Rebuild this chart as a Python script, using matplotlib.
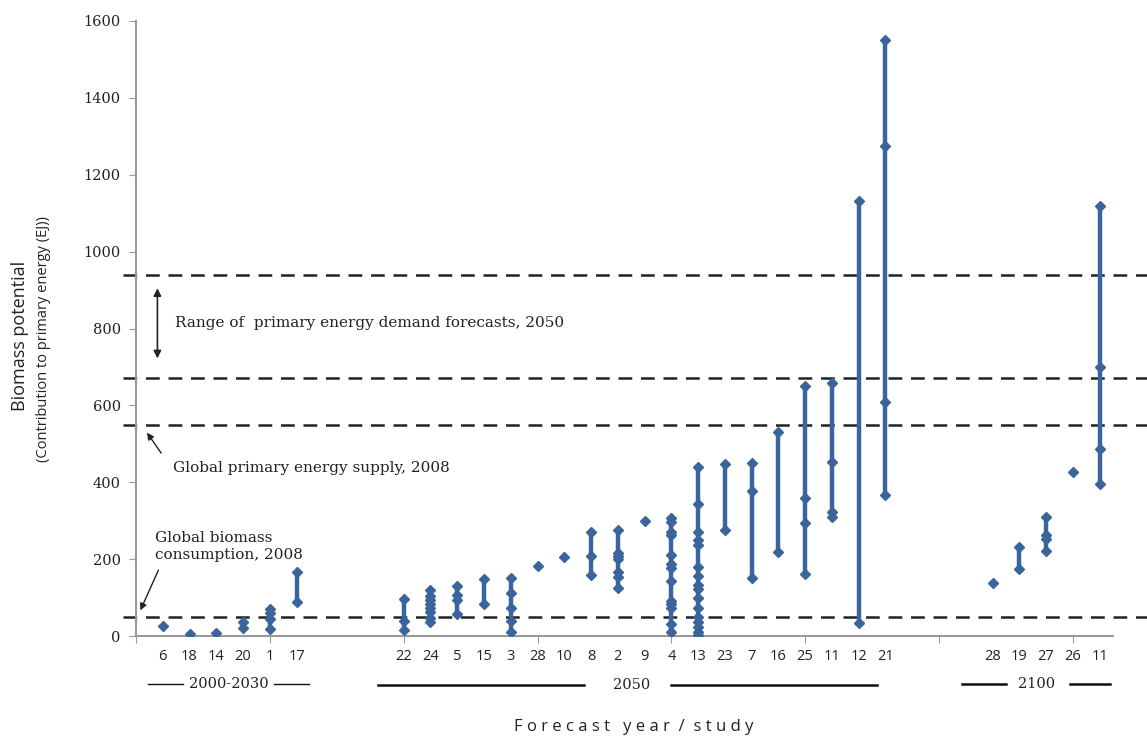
import numpy as np
import matplotlib
matplotlib.use('Agg')
import matplotlib.pyplot as plt
import matplotlib.transforms as mtransforms

# category slots along the x axis ('' = empty slot)
cats = ['', '6', '18', '14', '20', '1', '17', '', '', '',
        '22', '24', '5', '15', '3', '28', '10', '8', '2', '9',
        '4', '13', '23', '7', '16', '25', '11', '12', '21', '', '', '',
        '28', '19', '27', '26', '11']

# biomass potential estimates (EJ) per slot
vals = [[], [26], [5], [8], [36, 20], [70, 60, 45, 18], [166, 89], [], [], [],
        [96, 39, 16],
        [120, 105, 93, 82, 72, 62, 48, 36],
        [130, 107, 94, 58],
        [149, 83],
        [150, 111, 74, 39, 10],
        [183],
        [206],
        [271, 207, 160],
        [276, 215, 209, 200, 167, 153, 126],
        [299],
        [306, 297, 271, 263, 211, 187, 178, 143, 91, 82, 72, 30, 10],
        [439, 343, 270, 250, 237, 180, 156, 133, 121, 98, 72, 50, 37, 24, 11, 2],
        [447, 276],
        [451, 376, 152],
        [532, 218],
        [650, 360, 295, 161],
        [659, 452, 323, 310],
        [1132, 33],
        [1550, 1275, 610, 367],
        [], [], [],
        [137],
        [232, 174],
        [310, 263, 252, 221],
        [427],
        [1119, 701, 486, 395]]

ref_lines = [50, 550, 670, 940]

blue = '#3a659b'
serif = 'DejaVu Serif'
sans = 'Open Sans'

fig = plt.figure(figsize=(11.47, 7.38), dpi=100)
ax = fig.add_axes([136/1147, 1-636/738, 977/1147, 615/738])

for i, v in enumerate(vals):
    if not v:
        continue
    if len(v) > 1:
        ax.plot([i, i], [min(v), max(v)], color=blue, lw=3.2, solid_capstyle='butt', zorder=3)
    ax.plot([i]*len(v), v, ls='none', marker='D', ms=5.6, color=blue, mec=blue, zorder=4)

for y in ref_lines:
    ax.axhline(y, xmin=-0.0133, xmax=1.04, color='#222222', lw=1.8,
               ls=(0, (5.5, 3.5)), clip_on=False, zorder=2)

ax.set_xlim(0, len(cats) - 0.5)
ax.set_ylim(0, 1600)
ax.set_yticks(np.arange(0, 1601, 200))
ax.set_yticklabels([str(t) for t in range(0, 1601, 200)], family=serif, fontsize=10.5, color='#222222')

ax.xaxis.remove_overlapping_locs = False
ax.set_xticks(np.arange(0, len(cats), 5))
ax.set_xticklabels([])
ax.set_xticks([i for i, c in enumerate(cats) if c], minor=True)
ax.set_xticklabels([c for c in cats if c], minor=True, family=sans, fontsize=10.5, color='#222222')
ax.tick_params(axis='x', which='major', length=5, color='#999999', direction='out')
ax.tick_params(axis='x', which='minor', length=0, pad=9)
ax.tick_params(axis='y', length=5, color='#999999', pad=6)

for s in ['top', 'right']:
    ax.spines[s].set_visible(False)
for s in ['left', 'bottom']:
    ax.spines[s].set_color('#999999')
    ax.spines[s].set_linewidth(1.5)

# y axis title
fig.text(0.0175, 0.545, 'Biomass potential', rotation=90, ha='center', va='center',
         family=sans, fontsize=13, color='#222222')
fig.text(0.038, 0.54, '(Contribution to primary energy (EJ))', rotation=90, ha='center', va='center',
         family=sans, fontsize=10.5, color='#222222')

# x axis title
ax.text(0.509, -0.148, 'F o r e c a s t   y e a r  /  s t u d y',
        transform=ax.transAxes, ha='center', va='center', family=sans, fontsize=12, color='#222222')

# group brackets under the category labels
trans = mtransforms.blended_transform_factory(ax.transData, ax.transAxes)
groups = [('2000-2030', 3.47, -0.0787, [(0.45, 1.75), (5.15, 6.45)], 1.0),
          ('2050', 18.5, -0.0797, [(9.03, 16.75), (20.0, 27.7)], 1.8),
          ('2100', 33.65, -0.0787, [(30.85, 32.5), (34.9, 36.4)], 1.8)]
for name, xc, yy, segs, lw in groups:
    ax.text(xc, yy, name, transform=trans, ha='center', va='center',
            family=serif, fontsize=10.5, color='#222222')
    for a, b in segs:
        ax.plot([a, b], [yy, yy], transform=trans, color='#111111', lw=lw, clip_on=False)

# annotations
ax.annotate('', xy=(0.8, 715), xytext=(0.8, 912),
            arrowprops=dict(arrowstyle='<|-|>', color='#222222', lw=1.2, mutation_scale=11))
ax.text(1.45, 814, 'Range of  primary energy demand forecasts, 2050', ha='left', va='center',
        family=serif, fontsize=11, color='#222222')
ax.annotate('', xy=(0.35, 535), xytext=(1.0, 470),
            arrowprops=dict(arrowstyle='-|>', color='#222222', lw=1.0, mutation_scale=10))
ax.text(1.38, 438, 'Global primary energy supply, 2008', ha='left', va='center',
        family=serif, fontsize=11, color='#222222')
ax.text(0.72, 233, 'Global biomass\nconsumption, 2008', ha='left', va='center',
        family=serif, fontsize=11, color='#222222', linespacing=1.2)
ax.annotate('', xy=(0.12, 60), xytext=(0.88, 178),
            arrowprops=dict(arrowstyle='-|>', color='#222222', lw=1.0, mutation_scale=10))

fig.savefig('out.png', dpi=100)
